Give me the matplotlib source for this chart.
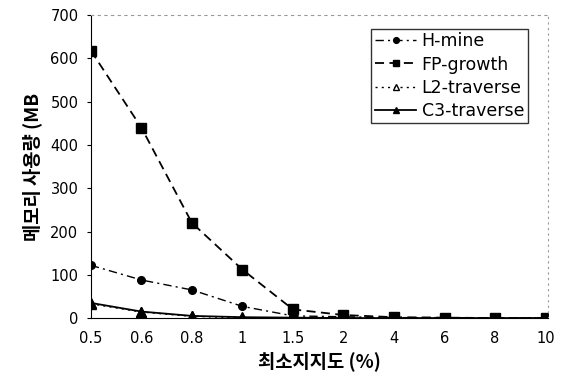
import matplotlib.pyplot as plt

plt.rcParams['font.family'] = ['DejaVu Sans', 'Noto Sans CJK KR']

# data
support = ['0.5', '0.6', '0.8', '1', '1.5', '2', '4', '6', '8', '10']
h_mine = [122, 88, 65, 27, 5, 3, 1, 1, 0, 0]
fp_growth = [618, 440, 220, 112, 20, 7, 2, 1, 0, 0]
l2_traverse = [33, 14, 4, 1, 0, 0, 0, 0, 0, 0]
c3_traverse = [35, 15, 5, 2, 1, 0, 0, 0, 0, 0]

x = list(range(len(support)))

fig = plt.figure(figsize=(5.61, 3.8), dpi=100)
ax = fig.add_axes([0.162, 0.163, 0.815, 0.797])

ax.plot(x, h_mine, color='black', linestyle=(0, (6, 3, 1.5, 3)), linewidth=1,
        marker='o', markersize=5.5, label='H-mine')
ax.plot(x, fp_growth, color='black', linestyle=(0, (5, 3)), linewidth=1.3,
        marker='s', markersize=6.5, label='FP-growth')
ax.plot(x, l2_traverse, color='black', linestyle=(0, (1.5, 3)), linewidth=1,
        marker='^', markersize=6.5, markerfacecolor='white', label='L2-traverse')
ax.plot(x, c3_traverse, color='black', linestyle='-', linewidth=1.3,
        marker='^', markersize=6.5, label='C3-traverse')

ax.set_xlim(0, 9.05)
ax.set_ylim(0, 700)
ax.set_yticks(range(0, 701, 100))
ax.set_xticks(x)
ax.set_xticklabels(support)

ax.tick_params(axis='both', labelsize=10.5, pad=6)
ax.tick_params(axis='x', length=0, pad=9)
ax.tick_params(axis='y', length=3, direction='out')

ax.spines['top'].set_linestyle((0, (2, 4)))
ax.spines['top'].set_color('#999999')
ax.spines['right'].set_linestyle((0, (1, 4)))
ax.spines['right'].set_color('#999999')

ax.set_xlabel('최소지지도 (%)', fontsize=13.5, fontweight='bold', labelpad=4,
              family=['Noto Sans CJK KR'])
ax.set_ylabel('메모리 사용량 (MB', fontsize=13.5, fontweight='bold', labelpad=6,
              family=['Noto Sans CJK KR'])

leg = ax.legend(loc='upper right', bbox_to_anchor=(0.955, 0.955), fontsize=12.5,
                frameon=True, fancybox=False, handlelength=2.4, markerscale=0.75,
                borderpad=0.2, labelspacing=0.3, handletextpad=0.3,
                borderaxespad=0)
leg.get_frame().set_edgecolor('black')
leg.get_frame().set_linewidth(1)

fig.savefig('out.png', dpi=100)
